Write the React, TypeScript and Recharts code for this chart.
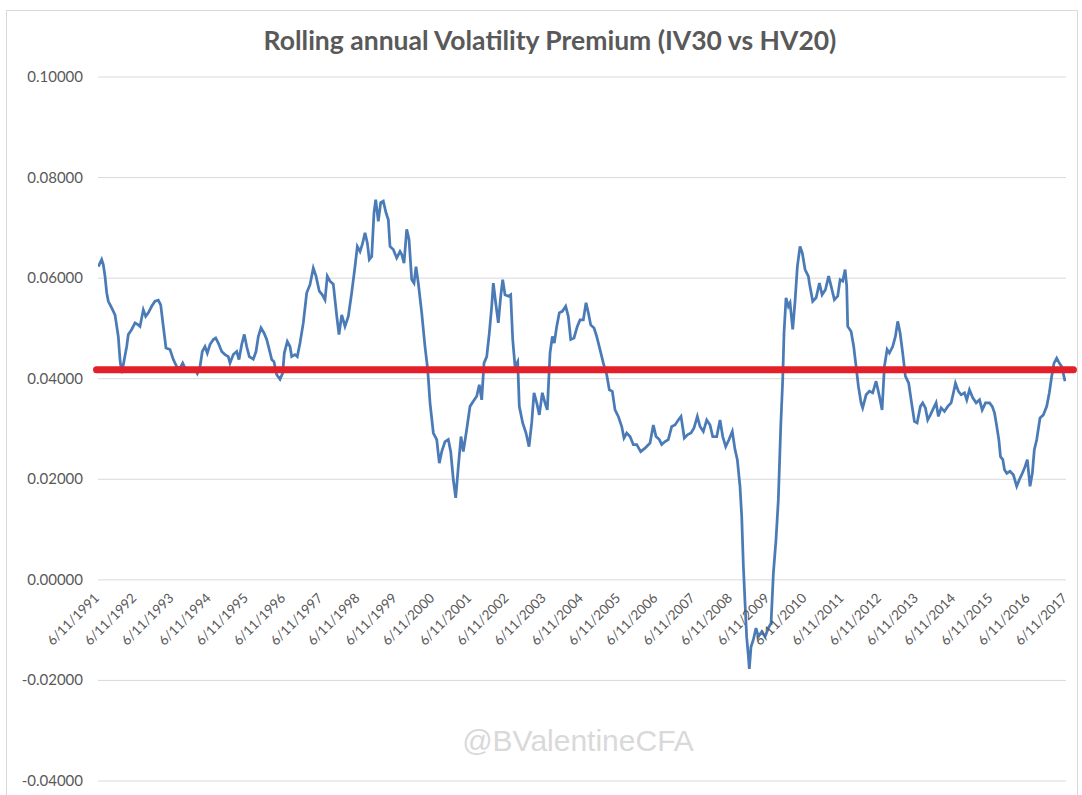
import { LineChart, Line, XAxis, YAxis, CartesianGrid, ReferenceLine } from 'recharts';

const FONT = 'Lato, "Open Sans", sans-serif';
const TEXT = '#595959';
const GRID = '#d9d9d9';
const BLUE = '#4a7bb7';
const RED = '#e3202a';

const W = 1082;
const H = 795;
const M = { top: 77, right: 16, bottom: 13, left: 0 };
const X_AXIS_H = 1;
const Y_MIN = -0.04;
const Y_MAX = 0.1;
const ZERO_Y = M.top + (Y_MAX / (Y_MAX - Y_MIN)) * (H - M.top - M.bottom - X_AXIS_H);

const yTicks = [-0.04, -0.02, 0, 0.02, 0.04, 0.06, 0.08, 0.1];
const tickLabels = [
  '6/11/1991', '6/11/1992', '6/11/1993', '6/11/1994', '6/11/1995', '6/11/1996',
  '6/11/1997', '6/11/1998', '6/11/1999', '6/11/2000', '6/11/2001', '6/11/2002',
  '6/11/2003', '6/11/2004', '6/11/2005', '6/11/2006', '6/11/2007', '6/11/2008',
  '6/11/2009', '6/11/2010', '6/11/2011', '6/11/2012', '6/11/2013', '6/11/2014',
  '6/11/2015', '6/11/2016', '6/11/2017',
];

// average premium level (red line) and its span
const avgPremium = 0.0418;
const avgFrom = 1991.4;
const avgTo = 2017.64;

// sample dates as fractional years
const dates = [
  1991.448, 1991.539, 1991.582, 1991.628, 1991.674, 1991.717, 1991.808, 1991.897, 1991.985, 1992.031,
  1992.077, 1992.120, 1992.211, 1992.254, 1992.345, 1992.434, 1992.522, 1992.568, 1992.657, 1992.721,
  1992.791, 1992.882, 1992.971, 1993.060, 1993.124, 1993.194, 1993.266, 1993.374, 1993.463, 1993.554,
  1993.643, 1993.715, 1993.777, 1993.911, 1994.045, 1994.107, 1994.180, 1994.241, 1994.314, 1994.376,
  1994.448, 1994.537, 1994.601, 1994.671, 1994.763, 1994.851, 1994.940, 1994.986, 1995.074, 1995.166,
  1995.227, 1995.300, 1995.370, 1995.434, 1995.504, 1995.611, 1995.684, 1995.746, 1995.818, 1995.899,
  1995.971, 1996.041, 1996.106, 1996.167, 1996.240, 1996.329, 1996.401, 1996.444, 1996.525, 1996.597,
  1996.643, 1996.731, 1996.793, 1996.866, 1996.954, 1997.046, 1997.134, 1997.223, 1997.296, 1997.384,
  1997.465, 1997.537, 1997.599, 1997.672, 1997.760, 1997.852, 1997.913, 1997.986, 1998.074, 1998.163,
  1998.254, 1998.343, 1998.405, 1998.478, 1998.539, 1998.612, 1998.674, 1998.727, 1998.792, 1998.853,
  1998.899, 1998.969, 1999.033, 1999.103, 1999.176, 1999.238, 1999.283, 1999.372, 1999.463, 1999.552,
  1999.598, 1999.660, 1999.732, 1999.794, 1999.866, 1999.928, 1999.982, 2000.043, 2000.135, 2000.223,
  2000.296, 2000.358, 2000.447, 2000.538, 2000.608, 2000.672, 2000.761, 2000.849, 2000.914, 2000.984,
  2001.048, 2001.118, 2001.190, 2001.252, 2001.343, 2001.432, 2001.521, 2001.612, 2001.682, 2001.746,
  2001.808, 2001.881, 2001.951, 2002.015, 2002.058, 2002.122, 2002.192, 2002.257, 2002.310, 2002.372,
  2002.461, 2002.525, 2002.579, 2002.641, 2002.713, 2002.756, 2002.847, 2002.936, 2003.017, 2003.089,
  2003.151, 2003.224, 2003.294, 2003.374, 2003.446, 2003.508, 2003.581, 2003.643, 2003.696, 2003.761,
  2003.831, 2003.911, 2004.002, 2004.072, 2004.137, 2004.225, 2004.314, 2004.387, 2004.475, 2004.548,
  2004.610, 2004.674, 2004.763, 2004.835, 2004.924, 2005.013, 2005.104, 2005.174, 2005.254, 2005.327,
  2005.415, 2005.507, 2005.568, 2005.641, 2005.730, 2005.818, 2005.910, 2006.017, 2006.133, 2006.267,
  2006.356, 2006.428, 2006.517, 2006.581, 2006.670, 2006.758, 2006.850, 2006.938, 2007.027, 2007.100,
  2007.188, 2007.280, 2007.368, 2007.449, 2007.538, 2007.610, 2007.699, 2007.790, 2007.879, 2007.951,
  2008.059, 2008.147, 2008.220, 2008.300, 2008.389, 2008.477, 2008.550, 2008.612, 2008.684, 2008.730,
  2008.773, 2008.818, 2008.864, 2008.907, 2008.934, 2008.980, 2009.042, 2009.114, 2009.176, 2009.267,
  2009.356, 2009.445, 2009.518, 2009.580, 2009.651, 2009.713, 2009.778, 2009.831, 2009.866, 2009.920,
  2009.982, 2010.028, 2010.100, 2010.162, 2010.224, 2010.296, 2010.358, 2010.431, 2010.519, 2010.548,
  2010.637, 2010.728, 2010.817, 2010.889, 2010.978, 2011.064, 2011.131, 2011.219, 2011.308, 2011.373,
  2011.442, 2011.507, 2011.550, 2011.577, 2011.668, 2011.738, 2011.802, 2011.864, 2011.936, 2011.979,
  2012.071, 2012.159, 2012.248, 2012.339, 2012.428, 2012.500, 2012.562, 2012.635, 2012.696, 2012.785,
  2012.858, 2012.920, 2012.984, 2013.054, 2013.126, 2013.215, 2013.280, 2013.368, 2013.441, 2013.529,
  2013.591, 2013.664, 2013.726, 2013.798, 2013.860, 2013.951, 2014.013, 2014.086, 2014.175, 2014.264,
  2014.355, 2014.417, 2014.471, 2014.551, 2014.624, 2014.713, 2014.775, 2014.847, 2014.936, 2015.028,
  2015.117, 2015.189, 2015.278, 2015.386, 2015.458, 2015.520, 2015.566, 2015.636, 2015.681, 2015.743,
  2015.788, 2015.850, 2015.937, 2016.026, 2016.116, 2016.186, 2016.267, 2016.339, 2016.401, 2016.474,
  2016.536, 2016.589, 2016.654, 2016.742, 2016.831, 2016.922, 2016.992, 2017.056, 2017.118, 2017.190,
  2017.260, 2017.325, 2017.414,
];

// IV30 - HV20 premium, rolling annual
const premium = [
  0.0623, 0.0637, 0.0627, 0.0604, 0.0571, 0.0554, 0.0541, 0.0527, 0.0484, 0.0438,
  0.0411, 0.0428, 0.0464, 0.0488, 0.0498, 0.0511, 0.0507, 0.0504, 0.0537, 0.0524,
  0.0531, 0.0544, 0.0554, 0.0556, 0.0547, 0.0504, 0.0461, 0.0458, 0.0438, 0.0424,
  0.0421, 0.0431, 0.0421, 0.0420, 0.0418, 0.0410, 0.0424, 0.0454, 0.0464, 0.0451,
  0.0468, 0.0478, 0.0481, 0.0471, 0.0454, 0.0448, 0.0444, 0.0431, 0.0448, 0.0454,
  0.0438, 0.0468, 0.0488, 0.0464, 0.0444, 0.0439, 0.0454, 0.0484, 0.0501, 0.0491,
  0.0478, 0.0458, 0.0438, 0.0434, 0.0408, 0.0399, 0.0411, 0.0451, 0.0474, 0.0464,
  0.0444, 0.0448, 0.0444, 0.0471, 0.0511, 0.0571, 0.0587, 0.0620, 0.0604, 0.0574,
  0.0567, 0.0557, 0.0604, 0.0594, 0.0588, 0.0525, 0.0488, 0.0527, 0.0504, 0.0524,
  0.0571, 0.0623, 0.0663, 0.0653, 0.0667, 0.0690, 0.0670, 0.0637, 0.0643, 0.0730,
  0.0756, 0.0713, 0.0750, 0.0753, 0.0730, 0.0716, 0.0663, 0.0657, 0.0640, 0.0653,
  0.0647, 0.0630, 0.0697, 0.0677, 0.0597, 0.0590, 0.0623, 0.0590, 0.0531, 0.0464,
  0.0418, 0.0352, 0.0292, 0.0279, 0.0232, 0.0255, 0.0275, 0.0279, 0.0255, 0.0199,
  0.0163, 0.0225, 0.0285, 0.0255, 0.0299, 0.0345, 0.0355, 0.0365, 0.0388, 0.0358,
  0.0431, 0.0444, 0.0491, 0.0544, 0.0590, 0.0551, 0.0511, 0.0564, 0.0597, 0.0567,
  0.0564, 0.0567, 0.0478, 0.0424, 0.0434, 0.0345, 0.0312, 0.0292, 0.0265, 0.0312,
  0.0372, 0.0352, 0.0328, 0.0372, 0.0352, 0.0338, 0.0451, 0.0484, 0.0471, 0.0504,
  0.0531, 0.0534, 0.0544, 0.0524, 0.0478, 0.0481, 0.0504, 0.0517, 0.0517, 0.0551,
  0.0531, 0.0507, 0.0501, 0.0484, 0.0458, 0.0431, 0.0408, 0.0378, 0.0375, 0.0338,
  0.0325, 0.0305, 0.0282, 0.0292, 0.0285, 0.0269, 0.0269, 0.0255, 0.0262, 0.0272,
  0.0308, 0.0285, 0.0279, 0.0269, 0.0275, 0.0279, 0.0305, 0.0308, 0.0318, 0.0325,
  0.0282, 0.0289, 0.0292, 0.0302, 0.0325, 0.0305, 0.0295, 0.0318, 0.0308, 0.0285,
  0.0285, 0.0318, 0.0285, 0.0265, 0.0279, 0.0295, 0.0259, 0.0239, 0.0186, 0.0126,
  0.0030, -0.0045, -0.0115, -0.0150, -0.0177, -0.0133, -0.0119, -0.0096, -0.0113, -0.0103,
  -0.0113, -0.0096, -0.0086, 0.0013, 0.0080, 0.0159, 0.0305, 0.0398, 0.0491, 0.0561,
  0.0544, 0.0551, 0.0498, 0.0554, 0.0623, 0.0663, 0.0650, 0.0617, 0.0604, 0.0590,
  0.0554, 0.0561, 0.0590, 0.0567, 0.0577, 0.0604, 0.0584, 0.0557, 0.0564, 0.0597,
  0.0594, 0.0617, 0.0584, 0.0504, 0.0494, 0.0464, 0.0424, 0.0385, 0.0352, 0.0342,
  0.0368, 0.0375, 0.0372, 0.0395, 0.0365, 0.0338, 0.0424, 0.0458, 0.0451, 0.0464,
  0.0484, 0.0514, 0.0491, 0.0451, 0.0405, 0.0391, 0.0358, 0.0315, 0.0312, 0.0345,
  0.0352, 0.0342, 0.0318, 0.0328, 0.0338, 0.0352, 0.0325, 0.0342, 0.0335, 0.0345,
  0.0352, 0.0372, 0.0391, 0.0375, 0.0368, 0.0372, 0.0358, 0.0378, 0.0362, 0.0352,
  0.0358, 0.0338, 0.0352, 0.0352, 0.0345, 0.0332, 0.0312, 0.0279, 0.0245, 0.0239,
  0.0219, 0.0212, 0.0216, 0.0209, 0.0186, 0.0199, 0.0212, 0.0225, 0.0239, 0.0186,
  0.0212, 0.0259, 0.0279, 0.0322, 0.0328, 0.0345, 0.0372, 0.0405, 0.0431, 0.0441,
  0.0431, 0.0424, 0.0395,
];

// m/d/yyyy -> fractional year
const toYear = (s: string) => {
  const [m, d, y] = s.split('/').map(Number);
  const start = Date.UTC(y, 0, 1);
  const day = (Date.UTC(y, m - 1, d) - start) / 86400000;
  return y + day / 365;
};

const xTicks = tickLabels.map(toYear);
const points = dates.map((t, i) => ({ t, v: premium[i] }));

const labelOf = (v: number) => {
  let best = 0;
  xTicks.forEach((t, i) => {
    if (Math.abs(t - v) < Math.abs(xTicks[best] - v)) best = i;
  });
  return tickLabels[best];
};

const XTick = (props: any) => {
  const { x, payload } = props;
  const tx = x + 2;
  const ty = ZERO_Y + 19;
  return (
    <text
      x={tx}
      y={ty}
      transform={`rotate(-45, ${tx}, ${ty})`}
      textAnchor="end"
      fill={TEXT}
      style={{ fontSize: 13.5, fontFamily: FONT }}
    >
      {labelOf(payload.value)}
    </text>
  );
};

const YTick = ({ y, payload }: any) => (
  <text x={83} y={y} dy={5} textAnchor="end" fill={TEXT} style={{ fontSize: 15, fontFamily: FONT }}>
    {Number(payload.value).toFixed(5)}
  </text>
);

export default function App() {
  return (
    <div style={{ position: 'absolute', left: 0, top: 0, width: W, height: H, overflow: 'hidden', background: '#fff' }}>
      <div
        style={{
          position: 'absolute', left: 6, top: 10, width: 1072, height: 820,
          border: '1px solid #d9d9d9', boxSizing: 'border-box',
        }}
      />
      <div
        style={{
          position: 'absolute', left: 0, top: 24, width: 1100, textAlign: 'center',
          fontFamily: FONT, fontWeight: 700, fontSize: 26.5, color: TEXT, lineHeight: '32px',
        }}
      >
        Rolling annual Volatility Premium (IV30 vs HV20)
      </div>
      <div
        style={{
          position: 'absolute', left: 0, top: 723, width: 1156, textAlign: 'center',
          fontFamily: '"Liberation Sans", Arial, sans-serif', fontSize: 30, color: '#d9d9d9', lineHeight: '36px',
        }}
      >
        @BValentineCFA
      </div>
      <div style={{ position: 'absolute', left: 0, top: 0 }}>
        <LineChart width={W} height={H} data={points} margin={M}>
          <CartesianGrid vertical={false} stroke={GRID} strokeWidth={1} />
          <XAxis
            type="number"
            dataKey="t"
            domain={[1991.44, 2017.44]}
            ticks={xTicks}
            interval={0}
            tick={XTick}
            axisLine={false}
            tickLine={false}
            height={X_AXIS_H}
            allowDataOverflow
          />
          <YAxis
            domain={[Y_MIN, Y_MAX]}
            ticks={yTicks}
            interval={0}
            width={98}
            tick={<YTick />}
            axisLine={false}
            tickLine={false}
          />
          <Line
            type="linear"
            dataKey="v"
            stroke={BLUE}
            strokeWidth={2.75}
            dot={false}
            isAnimationActive={false}
          />
          <ReferenceLine
            segment={[{ x: avgFrom, y: avgPremium }, { x: avgTo, y: avgPremium }]}
            stroke={RED}
            strokeWidth={7}
            strokeLinecap="round"
            ifOverflow="visible"
          />
        </LineChart>
      </div>
    </div>
  );
}
